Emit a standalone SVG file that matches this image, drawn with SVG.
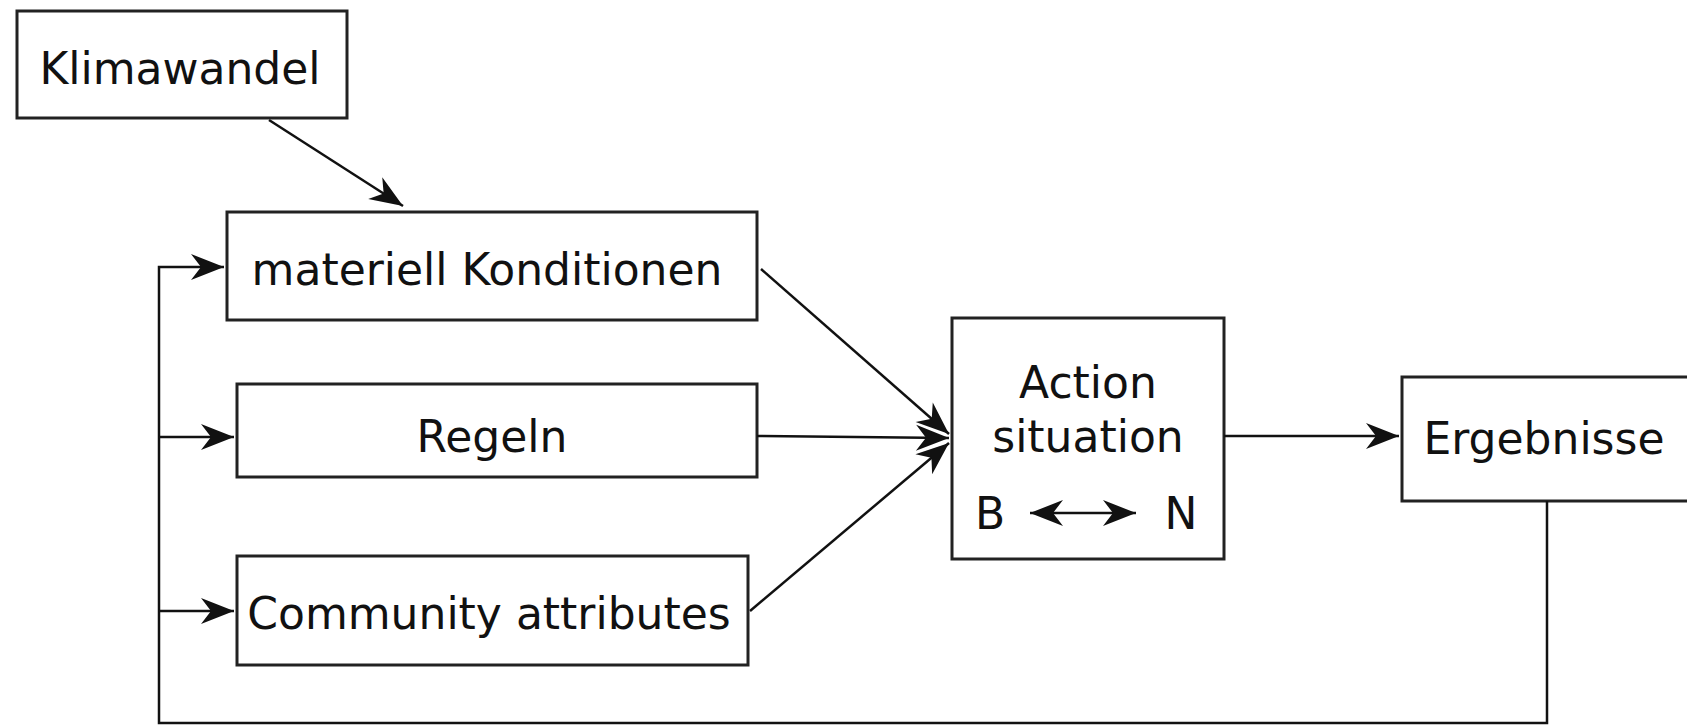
<svg xmlns="http://www.w3.org/2000/svg" width="1687" height="726" viewBox="0 0 1687 726">
<style>
.box{fill:#fff;stroke:#222;stroke-width:3}
.t{font-family:"DejaVu Sans",sans-serif;font-size:44px;fill:#111;text-anchor:middle}
.c{fill:none;stroke:#111;stroke-width:2.5}
</style>
<defs>
<marker id="ah" markerUnits="userSpaceOnUse" markerWidth="44" markerHeight="34" viewBox="-36 -17 38 34" refX="0" refY="0" orient="auto-start-reverse">
<path d="M0,0 L-33,-13 L-23,0 L-33,13 Z" fill="#111"/>
</marker>
</defs>
<rect width="1687" height="726" fill="#fff"/>
<g id="klimawandel"><rect class="box" x="17" y="11" width="330" height="107"/><text class="t" x="180" y="84">Klimawandel</text></g>
<g id="materiell"><rect class="box" x="227" y="212" width="530" height="108"/><text class="t" x="487" y="285">materiell Konditionen</text></g>
<g id="regeln"><rect class="box" x="237" y="384" width="520" height="93"/><text class="t" x="492" y="452">Regeln</text></g>
<g id="community"><rect class="box" x="237" y="556" width="511" height="109"/><text class="t" x="489" y="629">Community attributes</text></g>
<g id="action"><rect class="box" x="952" y="318" width="272" height="241"/><text class="t" x="1088" y="398">Action</text><text class="t" x="1088" y="452">situation</text><text class="t" x="990" y="529">B</text><text class="t" x="1181" y="529">N</text><line class="c" x1="1030" y1="513" x2="1136" y2="513" marker-start="url(#ah)" marker-end="url(#ah)"/></g>
<g id="ergebnisse"><rect class="box" x="1402" y="377" width="300" height="124"/><text class="t" x="1544" y="454">Ergebnisse</text></g>
<g id="connectors">
<line class="c" x1="269" y1="120" x2="403" y2="206" marker-end="url(#ah)"/>
<line class="c" x1="761" y1="269" x2="949" y2="434" marker-end="url(#ah)"/>
<line class="c" x1="757" y1="436" x2="949" y2="438" marker-end="url(#ah)"/>
<line class="c" x1="750" y1="611" x2="949" y2="443" marker-end="url(#ah)"/>
<line class="c" x1="1224" y1="436" x2="1399" y2="436" marker-end="url(#ah)"/>
<polyline class="c" points="1547,501 1547,723 159,723 159,267 224,267" marker-end="url(#ah)"/>
<line class="c" x1="159" y1="437" x2="234" y2="437" marker-end="url(#ah)"/>
<line class="c" x1="159" y1="611" x2="234" y2="611" marker-end="url(#ah)"/>
</g>
</svg>
